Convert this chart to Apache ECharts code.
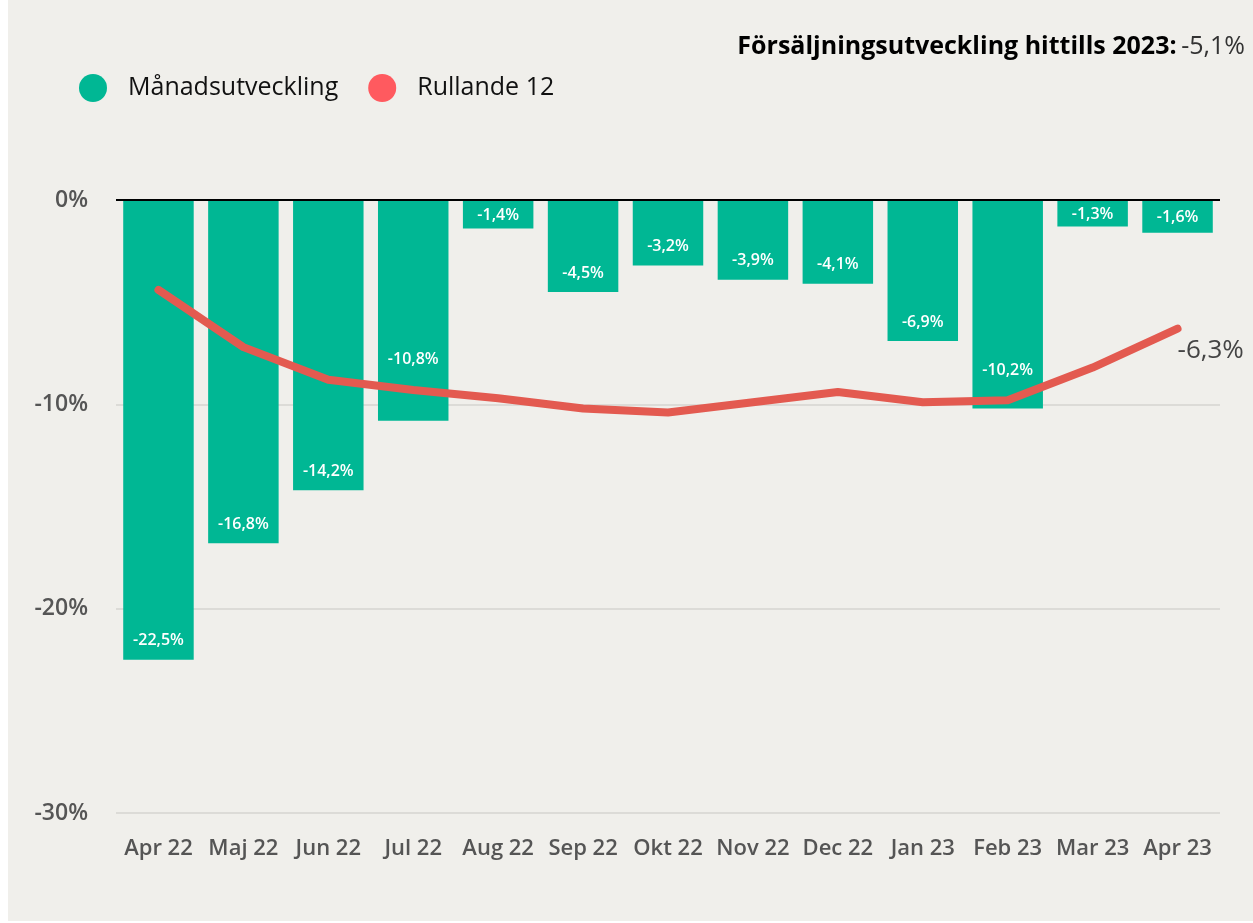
<!DOCTYPE html>
<html>
<head>
<meta charset="utf-8">
<script src="https://cdn.jsdelivr.net/npm/echarts@6/dist/echarts.min.js"></script>
<style>
  html, body { margin: 0; padding: 0; background: #fff; }
  #main { position: absolute; left: 8px; top: 0; width: 1245px; height: 921px; background: #f0efeb; }
</style>
</head>
<body>
<div id="main"></div>
<script>
var months = ['Apr 22', 'Maj 22', 'Jun 22', 'Jul 22', 'Aug 22', 'Sep 22', 'Okt 22', 'Nov 22', 'Dec 22', 'Jan 23', 'Feb 23', 'Mar 23', 'Apr 23'];
var monthly = [-22.5, -16.8, -14.2, -10.8, -1.4, -4.5, -3.2, -3.9, -4.1, -6.9, -10.2, -1.3, -1.6];
var rolling12 = [-4.4, -7.2, -8.8, -9.3, -9.7, -10.2, -10.4, -9.9, -9.4, -9.9, -9.8, -8.2, -6.3];
var ytdLabel = 'Försäljningsutveckling hittills 2023:';
var ytdValue = -5.1;

function pct(v) {
  return v.toFixed(1).replace('.', ',') + '%';
}

var font = '"Open Sans", "Noto Sans", sans-serif';
var pxPerUnit = 20.4;

// label spacing: keep short bars' labels inside, lift labels that would hit the line
var barData = monthly.map(function (v, i) {
  var diff = rolling12[i] - v;
  var barPx = Math.abs(v) * pxPerUnit;
  var dist = Math.min(11, Math.max(2, (barPx - 22) / 2 + 2));
  if (diff >= 0 && diff < 2) {
    dist = Math.round(diff * pxPerUnit + 22);
  }
  return { value: v, label: { distance: dist } };
});

var chart = echarts.init(document.getElementById('main'));

chart.setOption({
  backgroundColor: '#f0efeb',
  textStyle: { fontFamily: font },
  title: {
    right: 3,
    top: 29,
    text: '{b|' + ytdLabel + '} {n|' + pct(ytdValue) + '}',
    textStyle: {
      rich: {
        b: { fontFamily: font, fontSize: 25, fontWeight: 'bold', color: '#000' },
        n: { fontFamily: font, fontSize: 25, fontWeight: 'normal', color: '#333' }
      }
    }
  },
  legend: {
    left: 66,
    top: 69,
    icon: 'circle',
    itemWidth: 28,
    itemHeight: 28,
    itemGap: 30,
    textStyle: { fontSize: 25, color: '#111', fontFamily: font, padding: [0, 0, 0, 16] },
    data: ['Månadsutveckling', 'Rullande 12']
  },
  grid: { left: 108, right: 33, top: 200, bottom: 108, containLabel: false },
  xAxis: {
    type: 'category',
    data: months,
    axisLine: { show: false },
    axisTick: { show: false },
    axisLabel: { interval: 0, color: '#555', fontSize: 22, fontWeight: 600, margin: 25, fontFamily: font }
  },
  yAxis: {
    type: 'value',
    min: -30,
    max: 0,
    interval: 10,
    axisLabel: { color: '#555', fontSize: 23, fontWeight: 600, margin: 28, formatter: function (v) { return v + '%'; }, fontFamily: font },
    splitLine: { lineStyle: { color: '#dcdbd7', width: 2 } }
  },
  series: [
    {
      name: 'Månadsutveckling',
      type: 'bar',
      data: barData,
      barCategoryGap: '17%',
      itemStyle: { color: '#00b794' },
      label: {
        show: true,
        position: 'insideBottom',
        distance: 11,
        color: '#fff',
        fontSize: 16,
        fontWeight: 600,
        fontFamily: font,
        formatter: function (p) { return pct(p.value); }
      },
      markLine: {
        silent: true,
        symbol: 'none',
        label: { show: false },
        lineStyle: { color: '#000', width: 2, type: 'solid' },
        data: [{ yAxis: 0 }],
        z: 10
      }
    },
    {
      name: 'Rullande 12',
      type: 'line',
      data: rolling12,
      symbol: 'none',
      itemStyle: { color: '#ff5a5f' },
      lineStyle: { color: '#e35a50', width: 8, cap: 'round', join: 'round' },
      endLabel: {
        show: true,
        color: '#444',
        fontSize: 26,
        fontFamily: font,
        offset: [-8, 22],
        formatter: function (p) { return pct(p.value); }
      },
      z: 5
    }
  ]
});
</script>
</body>
</html>
